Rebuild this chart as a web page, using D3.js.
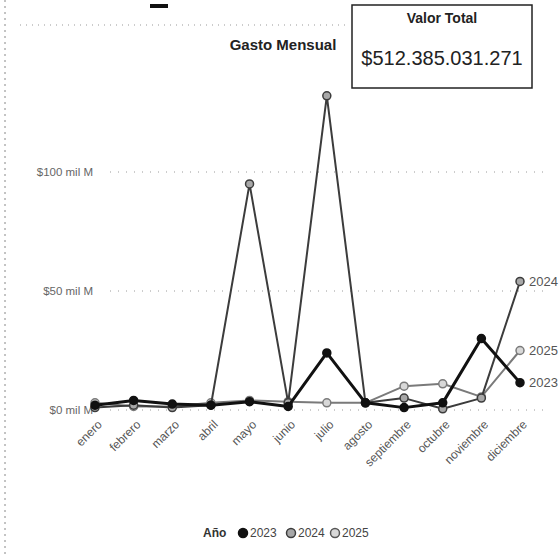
<!DOCTYPE html>
<html lang="es">
<head>
<meta charset="UTF-8">
<title>Gasto Mensual</title>
<script src="https://d3js.org/d3.v7.min.js"></script>
<style>
    * { margin: 0; padding: 0; }
    body { background: #fff; }
    svg text { font-family: "Liberation Sans", Arial, sans-serif; }
    .grid line { stroke: #9a9a9a; stroke-dasharray: 1,7; }
</style>
</head>
<body>
<div id="content"></div>
<script>
    // meses
    var months = ["enero", "febrero", "marzo", "abril", "mayo", "junio", "julio",
                  "agosto", "septiembre", "octubre", "noviembre", "diciembre"];
    // gasto en mil millones por año
    var years = ["2023", "2024", "2025"];
    var gasto2023 = [2, 4, 2.5, 2, 3.5, 1.5, 24, 3, 1, 3, 30, 11.5];
    var gasto2024 = [1, 2, 1, 2, 95, 3, 132, 3, 5, 0.5, 5, 54];
    var gasto2025 = [3, 1.5, 1.5, 3, 4, 3.5, 3, 3, 10, 11, 5.5, 25];
    var yTicks = [0, 50, 100];
    var totalText = "$512.385.031.271";

    var width = 560, height = 555;

    var svg = d3.select("#content").append("svg")
        .attr("width", width).attr("height", height);

    // bordes punteados del recorte
    svg.append("line").attr("x1", 5).attr("x2", 5).attr("y1", 0).attr("y2", height)
        .attr("stroke", "#888").attr("stroke-dasharray", "2,4");
    svg.append("line").attr("x1", 20).attr("x2", 350).attr("y1", 25).attr("y2", 25)
        .attr("stroke", "#999").attr("stroke-dasharray", "1,5");
    svg.append("rect").attr("x", 150).attr("y", 4).attr("width", 18).attr("height", 4).attr("fill", "#111");

    /* escalas */
    var xScale = d3.scalePoint().domain(months).range([95, 520]);
    var yScale = d3.scaleLinear().domain([0, 100]).range([410, 172]);

    // grilla
    svg.append("g").attr("class", "grid")
        .selectAll("line").data(yTicks).enter().append("line")
        .attr("x1", 110).attr("x2", 545)
        .attr("y1", function(d){ return yScale(d); })
        .attr("y2", function(d){ return yScale(d); });

    // eje y
    var yAxis = d3.axisLeft(yScale).tickValues(yTicks).tickSize(0)
        .tickFormat(function(d){ return "$" + d + " mil M"; });
    var gy = svg.append("g").attr("transform", "translate(96,0)").call(yAxis);
    gy.select(".domain").remove();
    gy.selectAll("text").attr("fill", "#666").style("font-size", "11.5px");

    // eje x
    var xAxis = d3.axisBottom(xScale).tickSize(0);
    var gx = svg.append("g").attr("transform", "translate(0,418)").call(xAxis);
    gx.select(".domain").remove();
    gx.selectAll("text")
        .attr("fill", "#555").style("font-size", "12px")
        .attr("text-anchor", "end")
        .attr("dx", 0).attr("dy", "0.6em")
        .attr("transform", "rotate(-45)");

    /* series */
    var series = [
        {year: "2025", values: gasto2025, stroke: "#7a7a7a", width: 2, fill: "#d8d8d8"},
        {year: "2024", values: gasto2024, stroke: "#3c3c3c", width: 2, fill: "#a8a8a8"},
        {year: "2023", values: gasto2023, stroke: "#111", width: 3, fill: "#111"}
    ];

    var line = d3.line()
        .x(function(d, i){ return xScale(months[i]); })
        .y(function(d){ return yScale(d); });

    series.forEach(function(s){
        svg.append("path")
            .attr("d", line(s.values))
            .attr("fill", "none")
            .attr("stroke", s.stroke)
            .attr("stroke-width", s.width)
            .attr("stroke-linejoin", "round");
        svg.append("g").selectAll("circle").data(s.values).enter().append("circle")
            .attr("cx", function(d, i){ return xScale(months[i]); })
            .attr("cy", function(d){ return yScale(d); })
            .attr("r", 4)
            .attr("fill", s.fill)
            .attr("stroke", s.stroke)
            .attr("stroke-width", 1.5);
        // etiqueta al final
        var last = s.values[s.values.length - 1];
        svg.append("text")
            .attr("x", xScale(months[months.length - 1]) + 9)
            .attr("y", yScale(last))
            .attr("dy", "0.35em")
            .attr("fill", "#555")
            .style("font-size", "13px")
            .text(s.year);
    });

    // título
    svg.append("text").attr("x", 283).attr("y", 50)
        .attr("text-anchor", "middle")
        .style("font-size", "15px").style("font-weight", "bold")
        .attr("fill", "#222")
        .text("Gasto Mensual");

    // tarjeta valor total
    svg.append("rect").attr("x", 352).attr("y", 5).attr("width", 180).attr("height", 83)
        .attr("fill", "#fff").attr("stroke", "#222").attr("stroke-width", 1.5);
    svg.append("text").attr("x", 442).attr("y", 23)
        .attr("text-anchor", "middle")
        .style("font-size", "14px").style("font-weight", "bold")
        .attr("fill", "#222").text("Valor Total");
    svg.append("text").attr("x", 442).attr("y", 65)
        .attr("text-anchor", "middle")
        .style("font-size", "20px")
        .attr("fill", "#222").text(totalText);

    // leyenda
    var legend = svg.append("g").attr("transform", "translate(0,533)");
    legend.append("text").attr("x", 203).attr("dy", "0.35em")
        .style("font-size", "12px").style("font-weight", "bold")
        .attr("fill", "#333").text("Año");
    var legX = [243, 291, 335];
    var legFill = {"2023": "#111", "2024": "#a8a8a8", "2025": "#d8d8d8"};
    var legStroke = {"2023": "#111", "2024": "#3c3c3c", "2025": "#555"};
    years.forEach(function(y, i){
        legend.append("circle").attr("cx", legX[i]).attr("cy", 0).attr("r", 4.5)
            .attr("fill", legFill[y]).attr("stroke", legStroke[y]).attr("stroke-width", 1.5);
        legend.append("text").attr("x", legX[i] + 7).attr("dy", "0.35em")
            .style("font-size", "12px").attr("fill", "#444").text(y);
    });
</script>
</body>
</html>
